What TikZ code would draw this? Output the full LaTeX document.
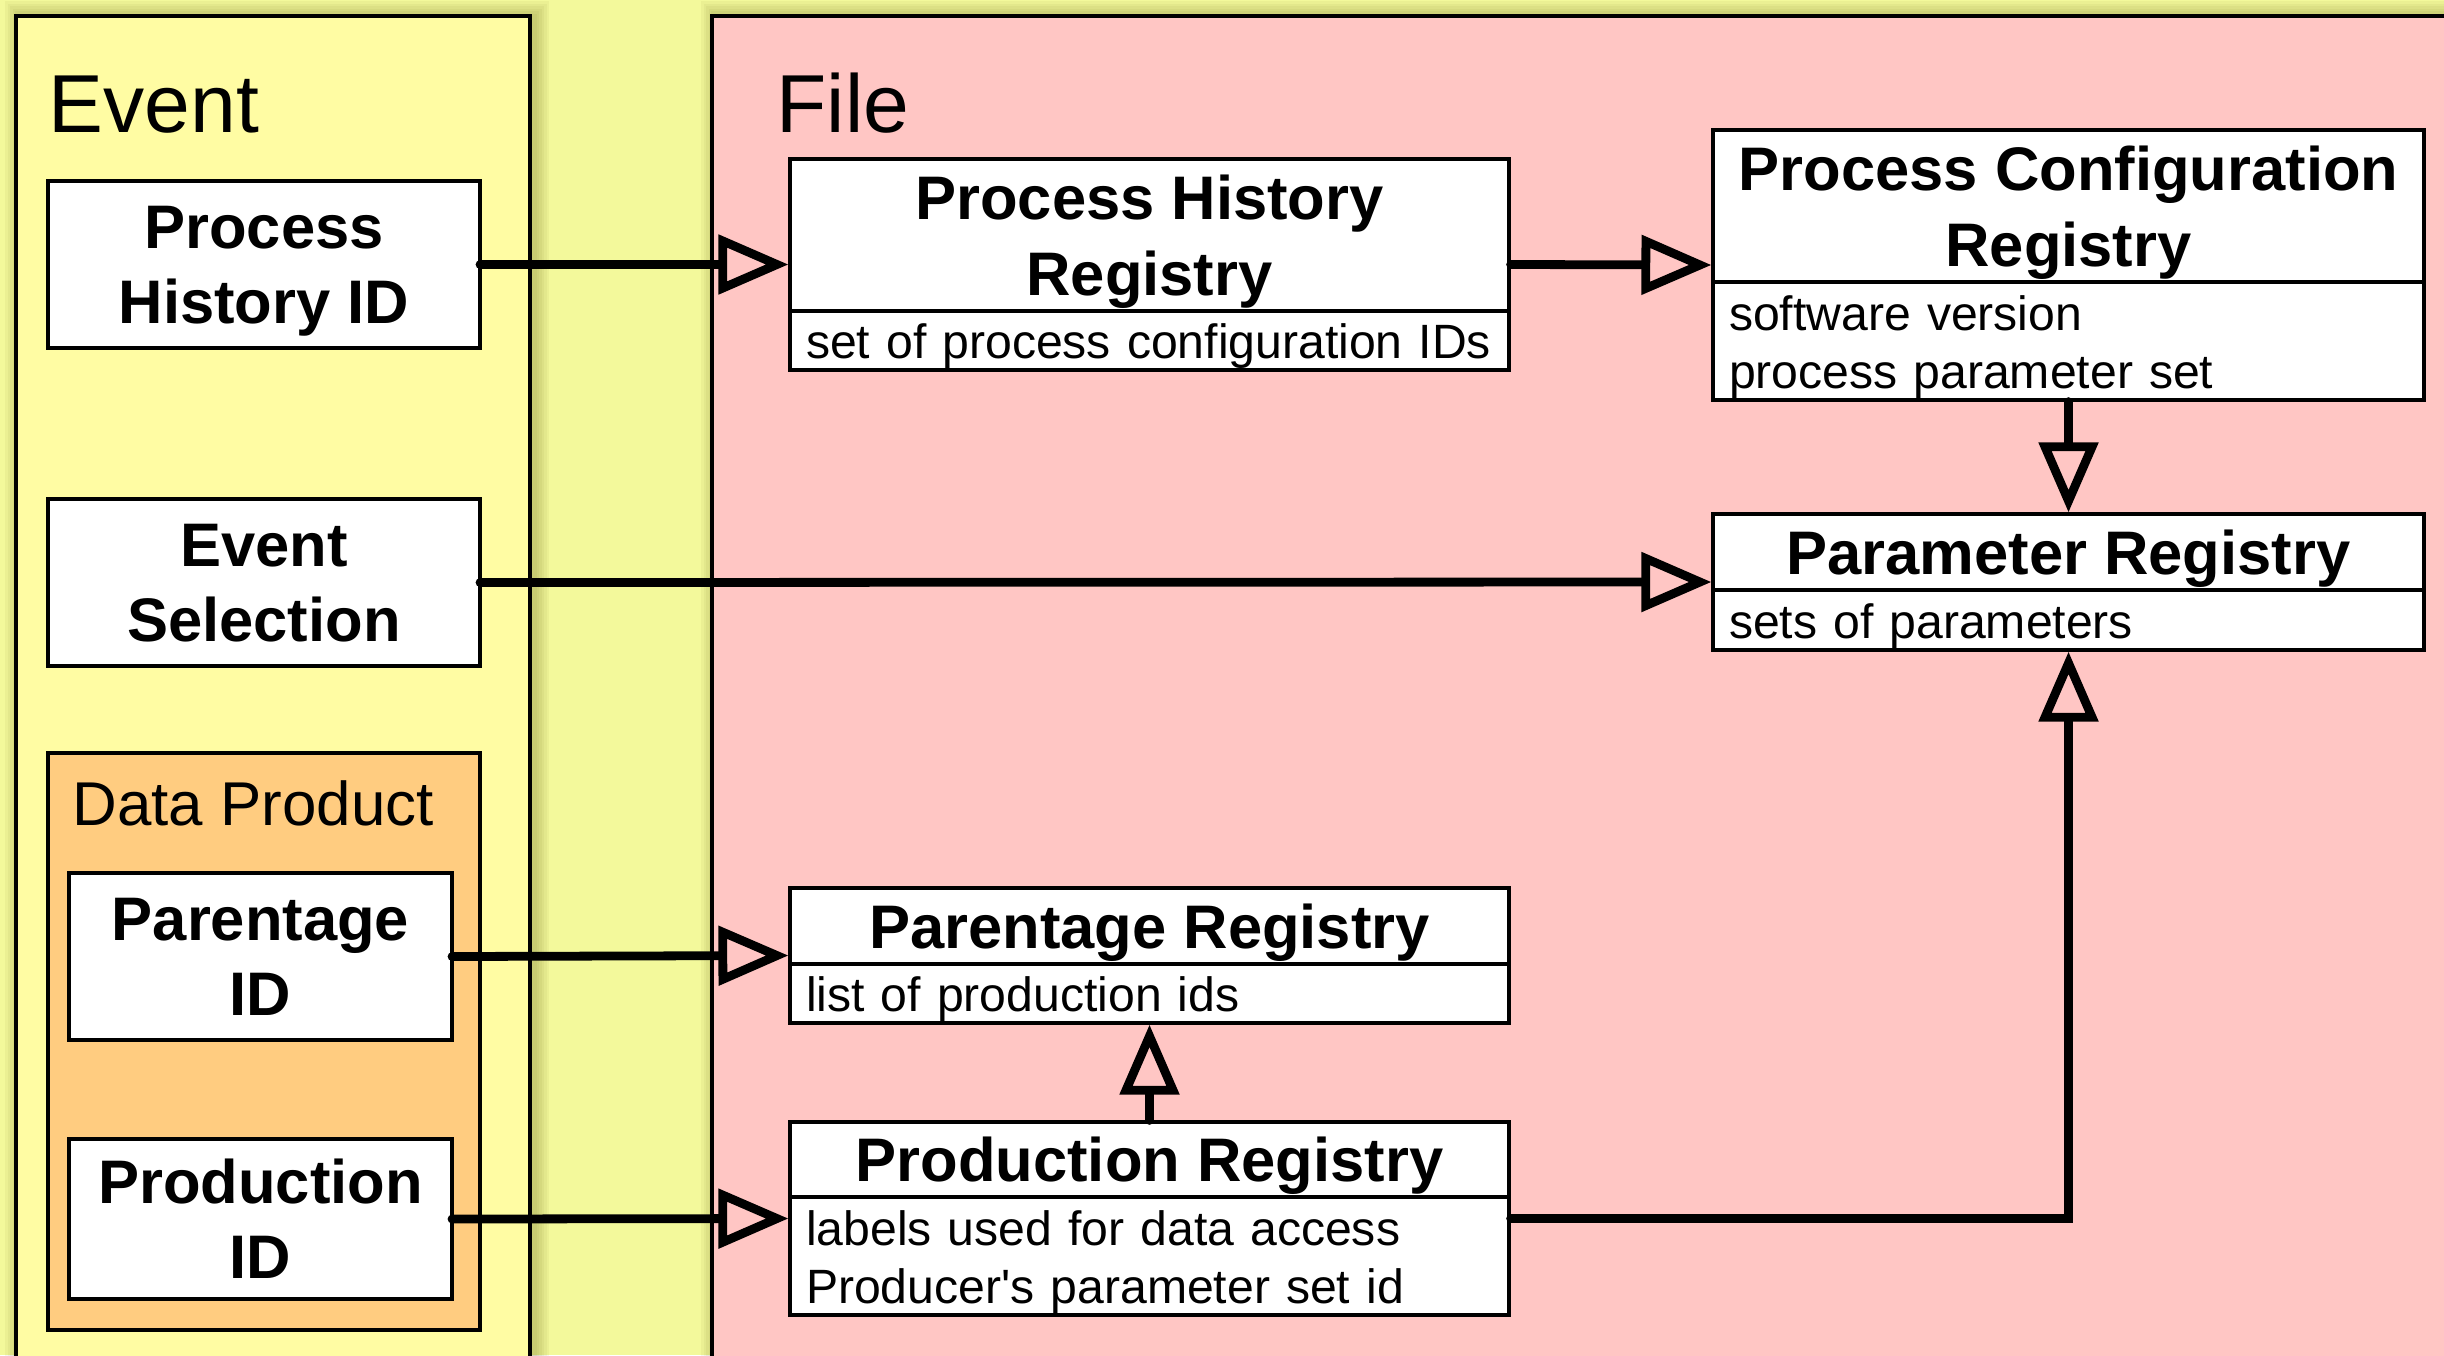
\documentclass[tikz,border=0pt]{standalone}
\usepackage{fontspec}
\setmainfont{Liberation Sans}
\usetikzlibrary{arrows.meta,positioning,fit}

\definecolor{pagebg}{RGB}{243,249,155}
\definecolor{eventbg}{RGB}{255,252,163}
\definecolor{filebg}{RGB}{255,198,196}
\definecolor{prodbg}{RGB}{255,204,128}
\definecolor{glow}{RGB}{110,110,30}

\begin{document}
\begin{tikzpicture}[x=0.1mm,y=-0.1mm,line width=0.9pt,
  lbl/.style={anchor=base west,inner sep=0pt},
  idbox/.style={draw,fill=white,align=center,inner sep=0pt,outer sep=0pt,text depth=0pt,
    font=\fontsize{17.5}{21.3}\selectfont\bfseries},
  regtitle/.style={draw,fill=white,align=center,inner sep=0pt,outer sep=0pt,
    text depth=0pt,font=\fontsize{17.5}{21.5}\selectfont\bfseries},
  regbody/.style={draw,fill=white,align=left,inner xsep=1.6mm,inner ysep=0pt,
    outer sep=0pt,text height=13.2pt,font=\fontsize{13.7}{16.4}\selectfont},
  arr/.style={-{Triangle[open,length=7mm,width=5.8mm]},line width=2.5pt,line cap=round}]
\path[use as bounding box] (0,0) rectangle (2444,1355);
\clip (0,0) rectangle (2444,1355);
\fill[pagebg] (0,0) rectangle (2444,1355);

% soft shade round the two panels
\foreach \g in {1,...,6} {
  \draw[glow,opacity=0.06,line width=\g*0.5mm] (20,16) rectangle (534,1400);
  \draw[glow,opacity=0.06,line width=\g*0.5mm] (716,16) rectangle (2500,1400);
}
\draw[fill=eventbg] (16,16) rectangle (530,1400);
\draw[fill=filebg] (712,16) rectangle (2500,1400);
\node[lbl,font=\fontsize{23.4}{28}\selectfont] (eventlbl) at (47,132) {Event};
\node[lbl,font=\fontsize{23.4}{28}\selectfont] (filelbl) at (775,132) {File};

\draw[fill=prodbg] (48,753) rectangle (480,1330);
\node[lbl,font=\fontsize{17.6}{21}\selectfont] (dplbl) at (71,825) {Data Product};

\node[idbox,minimum width=43.2mm,minimum height=16.7mm] (phid) at (264,264.5) {Process\\History ID};
\node[idbox,minimum width=43.2mm,minimum height=16.7mm] (evsel) at (264,582.5) {Event\\Selection};
\node[idbox,minimum width=38.3mm,minimum height=16.7mm] (parid) at (260.5,956.5) {Parentage\\ID};
\node[idbox,minimum width=38.3mm,minimum height=16mm] (prodid) at (260.5,1219) {Production\\ID};

\node[regtitle,minimum width=71.9mm,minimum height=15.2mm] (phrt) at (1149.5,235) {Process History\\Registry};
\node[regbody,text width=68.7mm,minimum height=5.9mm,below=0pt of phrt] (phrb) {set of process configuration IDs};
\node[fit=(phrt)(phrb),inner sep=0pt] (phr) {};

\node[regtitle,minimum width=71.1mm,minimum height=15.2mm] (pcrt) at (2068.5,206) {Process Configuration\\Registry};
\node[regbody,text width=67.9mm,minimum height=11.8mm,below=0pt of pcrt] (pcrb) {software version\\process parameter set};
\node[fit=(pcrt)(pcrb),inner sep=0pt] (pcr) {};

\node[regtitle,minimum width=71.1mm,minimum height=7.6mm] (paramt) at (2068.5,552) {Parameter Registry};
\node[regbody,text width=67.9mm,minimum height=6mm,below=0pt of paramt] (paramb) {sets of parameters};
\node[fit=(paramt)(paramb),inner sep=0pt] (param) {};

\node[regtitle,minimum width=71.9mm,minimum height=7.6mm] (parentt) at (1149.5,926) {Parentage Registry};
\node[regbody,text width=68.7mm,minimum height=5.9mm,below=0pt of parentt] (parentb) {list of production ids};
\node[fit=(parentt)(parentb),inner sep=0pt] (parent) {};

\node[regtitle,minimum width=71.9mm,minimum height=7.5mm] (prodt) at (1149.5,1159.5) {Production Registry};
\node[regbody,text width=68.7mm,minimum height=11.8mm,below=0pt of prodt] (prodb) {labels used for data access\\Producer\textquotesingle s parameter set id};
\node[fit=(prodt)(prodb),inner sep=0pt] (prod) {};

\draw[arr] (phid.east) -- (phr.west);
\draw[arr] (phr.east) -- (pcr.west);
\draw[arr] (evsel.east) -- (param.west);
\draw[arr] (parid.east) -- (parent.west);
\draw[arr] (prodid.east) -- (prod.west);
\draw[arr] (pcr.south) -- (param.north);
\draw[arr] (prod.north) -- (parent.south);
\draw[arr] (prod.east) -| (param.south);
\end{tikzpicture}
\end{document}
